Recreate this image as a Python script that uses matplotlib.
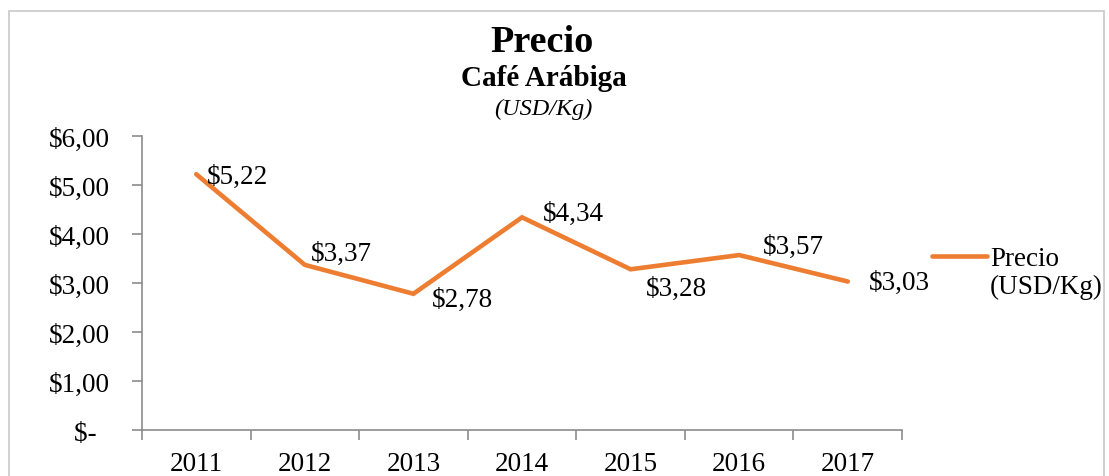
import matplotlib
matplotlib.use("Agg")
import matplotlib.pyplot as plt
import numpy as np
from matplotlib.lines import Line2D
from matplotlib.patches import Rectangle
from matplotlib.ticker import FixedLocator, FuncFormatter, NullFormatter

plt.rcParams['font.family'] = ['Liberation Serif', 'DejaVu Serif']

# data
years = ['2011', '2012', '2013', '2014', '2015', '2016', '2017']
precio = [5.22, 3.37, 2.78, 4.34, 3.28, 3.57, 3.03]

# label placement (pixel offsets from each point)
label_offsets = [(11, -2), (6, 11), (18, -6), (21, 4), (15, -19), (24, 9), (21, -1)]

orange = '#ED7D31'
axis_gray = '#8C8C8C'
fs = 19.5

fig = plt.figure(figsize=(11.09, 4.77), dpi=100)
ax = fig.add_axes([0.1280, 0.0964, 0.6854, 0.6164])

x = np.arange(len(years))
line, = ax.plot(x, precio, color=orange, linewidth=3.3, solid_capstyle='round',
                solid_joinstyle='miter', zorder=3)

for xi, v, (dx, dy) in zip(x, precio, label_offsets):
    lbl = f'${v:.2f}'.replace('.', ',')
    ax.annotate(lbl, (xi, v), xytext=(dx, dy), textcoords='offset pixels',
                ha='left', va='center', fontsize=fs, color='black')

ax.set_xlim(-0.5, len(years) - 0.5)
ax.set_ylim(0, 6)

# x axis: tick marks on category borders, labels at centers
ax.xaxis.set_major_locator(FixedLocator(np.arange(-0.5, len(years), 1.0)))
ax.xaxis.set_major_formatter(NullFormatter())
ax.xaxis.set_minor_locator(FixedLocator(x))
ax.xaxis.set_minor_formatter(FuncFormatter(lambda v, p: years[int(round(v))]))
ax.tick_params(axis='x', which='major', direction='out', length=7, width=1.2, color=axis_gray)
ax.tick_params(axis='x', which='minor', length=0, pad=15, labelsize=fs)

def money(v, p):
    if abs(v) < 1e-9:
        return '$-  '
    return f'${v:.2f}'.replace('.', ',')

ax.set_yticks(np.arange(0, 7, 1))
ax.yaxis.set_major_formatter(FuncFormatter(money))
ax.tick_params(axis='y', direction='out', length=7, width=1.2, color=axis_gray,
               pad=16, labelsize=fs)

for s in ['top', 'right']:
    ax.spines[s].set_visible(False)
for s in ['left', 'bottom']:
    ax.spines[s].set_color(axis_gray)
    ax.spines[s].set_linewidth(1.2)

# titles
fig.text(0.489, 0.891, 'Precio', ha='center', va='baseline', fontsize=27.5, fontweight='bold')
fig.text(0.490, 0.820, 'Café Arábiga', ha='center', va='baseline', fontsize=21, fontweight='bold')
fig.text(0.490, 0.759, '(USD/Kg)', ha='center', va='baseline', fontsize=17.5, style='italic')

# legend
blank = Line2D([], [], color='none')
ax.legend([line, blank], ['Precio', '(USD/Kg)'], loc='upper left',
          bbox_to_anchor=(1.04, 0.625), frameon=False, fontsize=fs,
          handlelength=2.0, handletextpad=0.12, labelspacing=0.1,
          borderaxespad=0, borderpad=0)

# chart area border
fig.add_artist(Rectangle((9 / 1109, -0.05), (1104 - 9) / 1109, 1.05 - 12 / 477,
                         transform=fig.transFigure, fill=False,
                         edgecolor='#C8C8C8', linewidth=1.2))

fig.savefig('out.png', dpi=100, facecolor='white')
